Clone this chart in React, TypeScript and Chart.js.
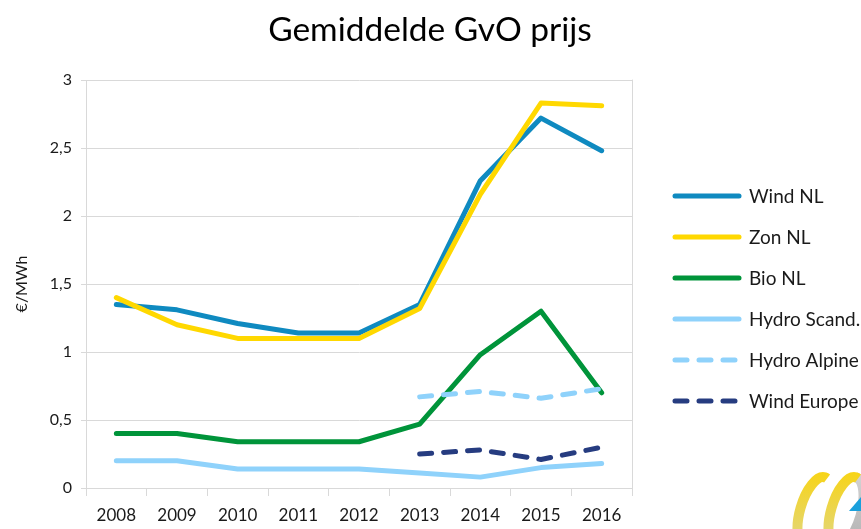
import React, { useEffect, useRef } from "react";
import { Chart, registerables } from "chart.js";

Chart.register(...registerables);

const years = ["2008", "2009", "2010", "2011", "2012", "2013", "2014", "2015", "2016"];
const windNL = [1.35, 1.31, 1.21, 1.14, 1.14, 1.35, 2.26, 2.72, 2.48];
const zonNL = [1.4, 1.2, 1.1, 1.1, 1.1, 1.32, 2.16, 2.83, 2.81];
const bioNL = [0.4, 0.4, 0.34, 0.34, 0.34, 0.47, 0.98, 1.3, 0.7];
const hydroScand = [0.2, 0.2, 0.14, 0.14, 0.14, 0.11, 0.08, 0.15, 0.18];
const hydroAlpine = [null, null, null, null, null, 0.67, 0.71, 0.66, 0.73];
const windEurope = [null, null, null, null, null, 0.25, 0.28, 0.21, 0.3];

const TITLE = "Gemiddelde GvO prijs";
const Y_TITLE = "€/MWh";
const FONT = "Lato, 'Open Sans', sans-serif";

const seriesDefs = [
  { label: "Wind NL", data: windNL, color: "#0f8ac0", dash: [] as number[] },
  { label: "Zon NL", data: zonNL, color: "#ffd800", dash: [] as number[] },
  { label: "Bio NL", data: bioNL, color: "#00943a", dash: [] as number[] },
  { label: "Hydro Scand.", data: hydroScand, color: "#8fd2fb", dash: [] as number[] },
  { label: "Hydro Alpine", data: hydroAlpine, color: "#8fd2fb", dash: [12, 12] },
  { label: "Wind Europe", data: windEurope, color: "#263c80", dash: [12, 12] },
];

const decorPlugin = {
  id: "decor",
  afterDraw(chart: any) {
    const ctx = chart.ctx;
    ctx.save();
    // title, centred on the page
    ctx.fillStyle = "#000";
    ctx.font = `33.5px ${FONT}`;
    ctx.textAlign = "center";
    ctx.textBaseline = "middle";
    ctx.fillText(TITLE, 430, 30);

    // legend
    chart.data.datasets.forEach((ds: any, i: number) => {
      const y = 196 + i * 41;
      ctx.beginPath();
      ctx.strokeStyle = ds.borderColor;
      ctx.lineWidth = 5;
      ctx.lineCap = "round";
      ctx.setLineDash(ds.borderDash || []);
      ctx.moveTo(675, y);
      ctx.lineTo(739, y);
      ctx.stroke();
      ctx.setLineDash([]);
      ctx.fillStyle = "#1a1a1a";
      ctx.font = `19px ${FONT}`;
      ctx.textBaseline = "middle";
      ctx.textAlign = "left";
      ctx.fillText(ds.label, 749, y + 1);
    });

    // plot area right border
    const a = chart.chartArea;
    ctx.strokeStyle = "#d9d9d9";
    ctx.lineWidth = 1;
    ctx.beginPath();
    ctx.moveTo(Math.round(a.right) + 0.5, a.top);
    ctx.lineTo(Math.round(a.right) + 0.5, a.bottom);
    ctx.stroke();

    // corner logo (decorative)
    const yellow = ctx.createLinearGradient(0, 472, 0, 529);
    yellow.addColorStop(0, "#f7d417");
    yellow.addColorStop(1, "#e6d66a");
    const grey = ctx.createLinearGradient(0, 472, 0, 529);
    grey.addColorStop(0, "#d4d4d4");
    grey.addColorStop(1, "#b9b9b9");
    ctx.lineCap = "butt";
    ctx.lineWidth = 10;
    const drawArc = (cx: number, color: any, a0: number, a1: number) => {
      ctx.beginPath();
      ctx.strokeStyle = color;
      ctx.ellipse(cx, 512, 15, 36, 0.28, a0, a1);
      ctx.stroke();
    };
    drawArc(846, grey, -Math.PI / 2, Math.PI / 2);
    drawArc(815, yellow, Math.PI * 0.5, Math.PI * 1.55);
    drawArc(846, yellow, Math.PI * 0.5, Math.PI * 1.55);
    ctx.fillStyle = "#1aa0dc";
    ctx.beginPath();
    ctx.moveTo(849, 511);
    ctx.lineTo(861, 497);
    ctx.lineTo(861, 511);
    ctx.closePath();
    ctx.fill();
    ctx.restore();
  },
};

export default function App() {
  const ref = useRef<HTMLCanvasElement | null>(null);
  useEffect(() => {
    document.body.style.margin = "0";
    const canvas = ref.current;
    if (!canvas) return;
    const chart = new Chart(canvas, {
      type: "line",
      data: {
        labels: years,
        datasets: seriesDefs.map((s, i) => ({
          label: s.label,
          data: s.data,
          borderColor: s.color,
          backgroundColor: s.color,
          borderWidth: 5,
          borderDash: s.dash,
          borderCapStyle: "round",
          borderJoinStyle: "round",
          pointRadius: 0,
          tension: 0,
          spanGaps: false,
          order: seriesDefs.length - i,
        })),
      },
      options: {
        responsive: false,
        animation: false,
        layout: { padding: { left: 0, right: 229, top: 80, bottom: 0 } },
        plugins: {
          legend: { display: false },
          tooltip: { enabled: false },
          title: { display: false },
        },
        scales: {
          x: {
            type: "category",
            offset: true,
            grid: {
              offset: true,
              drawOnChartArea: false,
              drawTicks: true,
              tickLength: 8,
              color: "#d9d9d9",
            },
            border: { color: "#d9d9d9", width: 1 },
            ticks: {
              color: "#1a1a1a",
              font: { family: FONT, size: 17 },
              padding: 9,
              maxRotation: 0,
            },
            afterFit(scale: any) {
              scale.height = 41;
            },
          },
          y: {
            min: 0,
            max: 3,
            ticks: {
              stepSize: 0.5,
              color: "#1a1a1a",
              font: { family: FONT, size: 16 },
              padding: 9,
              callback: (v: any) => String(v).replace(".", ","),
            },
            grid: { color: "#d9d9d9", tickLength: 5, lineWidth: 1 },
            border: { color: "#d9d9d9", width: 1 },
            title: {
              display: true,
              text: Y_TITLE,
              color: "#1a1a1a",
              font: { family: FONT, size: 16 },
              padding: { top: 12, bottom: 0 },
            },
            afterFit(scale: any) {
              scale.width = 86;
            },
          },
        },
      },
      plugins: [decorPlugin],
    } as any);
    return () => chart.destroy();
  }, []);
  return (
    <div style={{ width: 861, height: 529, background: "#fff" }}>
      <canvas ref={ref} width={861} height={529} style={{ display: "block" }} />
    </div>
  );
}
